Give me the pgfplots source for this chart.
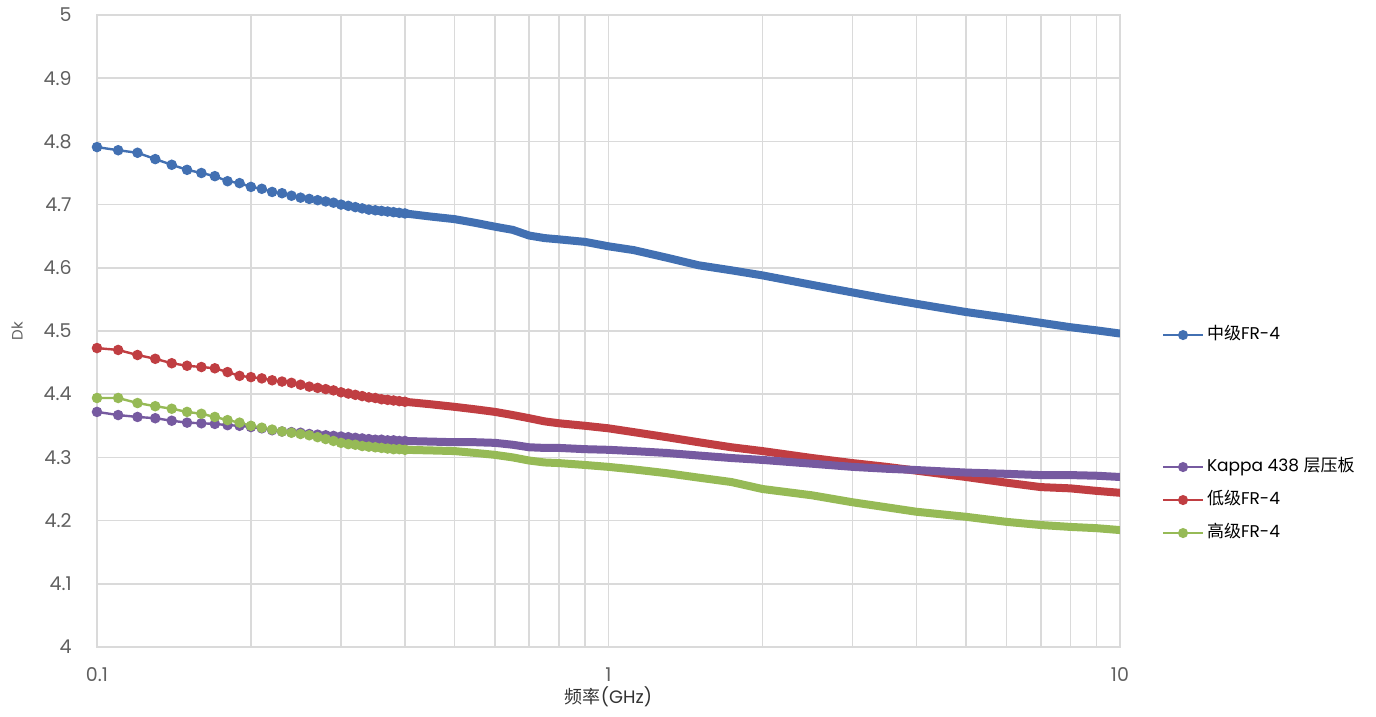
\documentclass[border=0pt]{standalone}
\usepackage{fontspec}
\setmainfont{Poppins}
\newfontfamily\cjk{Noto Sans CJK SC}
\usepackage{pgfplots}
\pgfplotsset{compat=1.18}
\usepackage{pgfplotstable}

\definecolor{cBlue}{RGB}{66,112,178}
\definecolor{cRed}{RGB}{192,62,66}
\definecolor{cPurple}{RGB}{118,90,160}
\definecolor{cGreen}{RGB}{150,186,86}
\definecolor{cGrid}{RGB}{218,218,218}
\definecolor{cTick}{RGB}{96,96,96}

% dense measured points, 0.1--0.4 GHz
\pgfplotstableread{
f     mid    low    kap    high
0.10  4.791  4.473  4.372  4.394
0.11  4.786  4.470  4.367  4.394
0.12  4.782  4.462  4.364  4.386
0.13  4.772  4.456  4.362  4.381
0.14  4.763  4.449  4.358  4.377
0.15  4.755  4.445  4.355  4.372
0.16  4.750  4.443  4.354  4.369
0.17  4.745  4.441  4.353  4.364
0.18  4.737  4.435  4.351  4.359
0.19  4.734  4.429  4.350  4.355
0.20  4.728  4.427  4.348  4.350
0.21  4.725  4.425  4.346  4.347
0.22  4.720  4.422  4.343  4.344
0.23  4.718  4.420  4.341  4.341
0.24  4.714  4.418  4.340  4.339
0.25  4.711  4.415  4.339  4.337
0.26  4.709  4.412  4.337  4.335
0.27  4.707  4.410  4.336  4.332
0.28  4.705  4.408  4.335  4.329
0.29  4.703  4.406  4.334  4.326
0.30  4.700  4.403  4.333  4.323
0.31  4.698  4.401  4.332  4.321
0.32  4.696  4.399  4.331  4.320
0.33  4.694  4.397  4.330  4.318
0.34  4.692  4.395  4.329  4.317
0.35  4.691  4.394  4.328  4.316
0.36  4.690  4.392  4.328  4.315
0.37  4.689  4.391  4.327  4.314
0.38  4.688  4.390  4.327  4.313
0.39  4.687  4.389  4.326  4.313
0.40  4.686  4.388  4.326  4.312
}\tabA

% high-density sweep region (markers merge into a band), 0.35--10 GHz
\pgfplotstableread{
f     mid    low    kap    high
0.35  4.691  4.394  4.328  4.316
0.40  4.686  4.388  4.326  4.312
0.45  4.681  4.384  4.325  4.311
0.50  4.677  4.380  4.324  4.310
0.55  4.671  4.376  4.324  4.307
0.60  4.665  4.372  4.323  4.304
0.65  4.660  4.367  4.320  4.300
0.70  4.651  4.362  4.316  4.295
0.75  4.647  4.357  4.315  4.292
0.80  4.645  4.354  4.315  4.291
0.90  4.641  4.350  4.313  4.288
1.00  4.634  4.346  4.312  4.285
1.12  4.628  4.340  4.310  4.281
1.30  4.616  4.332  4.307  4.275
1.50  4.604  4.324  4.303  4.268
1.74  4.596  4.316  4.299  4.261
2.00  4.588  4.310  4.296  4.250
2.50  4.573  4.299  4.290  4.240
3.00  4.561  4.291  4.285  4.229
3.50  4.551  4.285  4.282  4.221
4.00  4.543  4.279  4.280  4.214
5.00  4.530  4.269  4.276  4.206
6.00  4.521  4.260  4.274  4.198
7.00  4.513  4.253  4.272  4.193
8.00  4.506  4.251  4.272  4.190
9.00  4.501  4.247  4.271  4.188
10.0  4.496  4.244  4.269  4.185
}\tabB

\begin{document}
\begin{tikzpicture}
\useasboundingbox (-48.5pt,-35pt) rectangle (639.5pt,323.5pt);
\begin{axis}[
  at={(0,0)}, anchor=south west,
  scale only axis, width=511.5pt, height=316pt,
  xmode=log, xmin=0.1, xmax=10, ymin=4, ymax=5,
  xtick={0.1,1,10}, xticklabels={0.1,1,10},
  minor xtick={0.2,0.3,0.4,0.5,0.6,0.7,0.8,0.9,2,3,4,5,6,7,8,9},
  ytick={4,4.1,4.2,4.3,4.4,4.5,4.6,4.7,4.8,4.9,5},
  yticklabels={4,4.1,4.2,4.3,4.4,4.5,4.6,4.7,4.8,4.9,5},
  /pgf/number format/assume math mode=true,
  xmajorgrids, xminorgrids, ymajorgrids,
  grid style={cGrid, line width=0.8pt},
  minor grid style={cGrid, line width=0.8pt},
  axis line style={cGrid, line width=0.8pt},
  major tick length=0pt, minor tick length=0pt,
  tick style={draw=none},
  ticklabel style={font=\fontsize{9.5}{11}\selectfont, text=cTick},
  yticklabel style={inner sep=0pt, anchor=east, xshift=-12.5pt},
  xticklabel style={inner sep=0pt, anchor=north, yshift=-10pt},
  xlabel={{\cjk 频率}(GHz)},
  xlabel style={at={(axis description cs:0.5,0)}, anchor=center, yshift=-25pt,
    font=\fontsize{9}{11}\selectfont, text=black!80},
  ylabel={Dk},
  ylabel style={at={([xshift=-40pt]axis description cs:0,0.5)}, anchor=center,
    font=\fontsize{7.5}{9}\selectfont, text=cTick},
  legend style={at={(1.0411,0.5197)}, anchor=north west, draw=none, fill=none,
    inner sep=0pt, outer sep=0pt, row sep=0pt,
    font=\fontsize{8.5}{10}\selectfont,
    nodes={inner ysep=2pt, inner xsep=1.5pt, text height=8.5pt, text depth=4pt}},
  legend cell align=left,
  legend image code/.code={\draw[#1, line width=1pt, mark repeat=2, mark phase=2]
    plot coordinates {(0pt,0pt) (10pt,0pt) (20pt,0pt)};},
  every axis plot/.append style={line width=1.2pt, mark=*, mark size=2pt},
]
% band parts (dense sweep)
\addplot[cBlue, line width=4pt, mark=none, line cap=round, forget plot] table[x=f,y=mid]{\tabB};
\addplot[cRed, line width=4pt, mark=none, line cap=round, forget plot] table[x=f,y=low]{\tabB};
\addplot[cGreen, line width=4pt, mark=none, line cap=round, forget plot] table[x=f,y=high]{\tabB};
\addplot[cPurple, line width=4pt, mark=none, line cap=round, forget plot] table[x=f,y=kap]{\tabB};

\addplot[cBlue, mark options={fill=cBlue, draw=cBlue}] table[x=f,y=mid]{\tabA};
\addlegendentry{{\cjk 中级}FR-4}
\addlegendimage{empty legend}\addlegendentry{}
\addlegendimage{empty legend}\addlegendentry{}
\addlegendimage{empty legend}\addlegendentry{}
\addplot[cPurple, mark options={fill=cPurple, draw=cPurple}] table[x=f,y=kap]{\tabA};
\addlegendentry{Kappa 438 {\cjk 层压板}}
\addplot[cRed, mark options={fill=cRed, draw=cRed}] table[x=f,y=low]{\tabA};
\addlegendentry{{\cjk 低级}FR-4}
\addplot[cGreen, mark options={fill=cGreen, draw=cGreen}] table[x=f,y=high]{\tabA};
\addlegendentry{{\cjk 高级}FR-4}
\end{axis}
\end{tikzpicture}
\end{document}
